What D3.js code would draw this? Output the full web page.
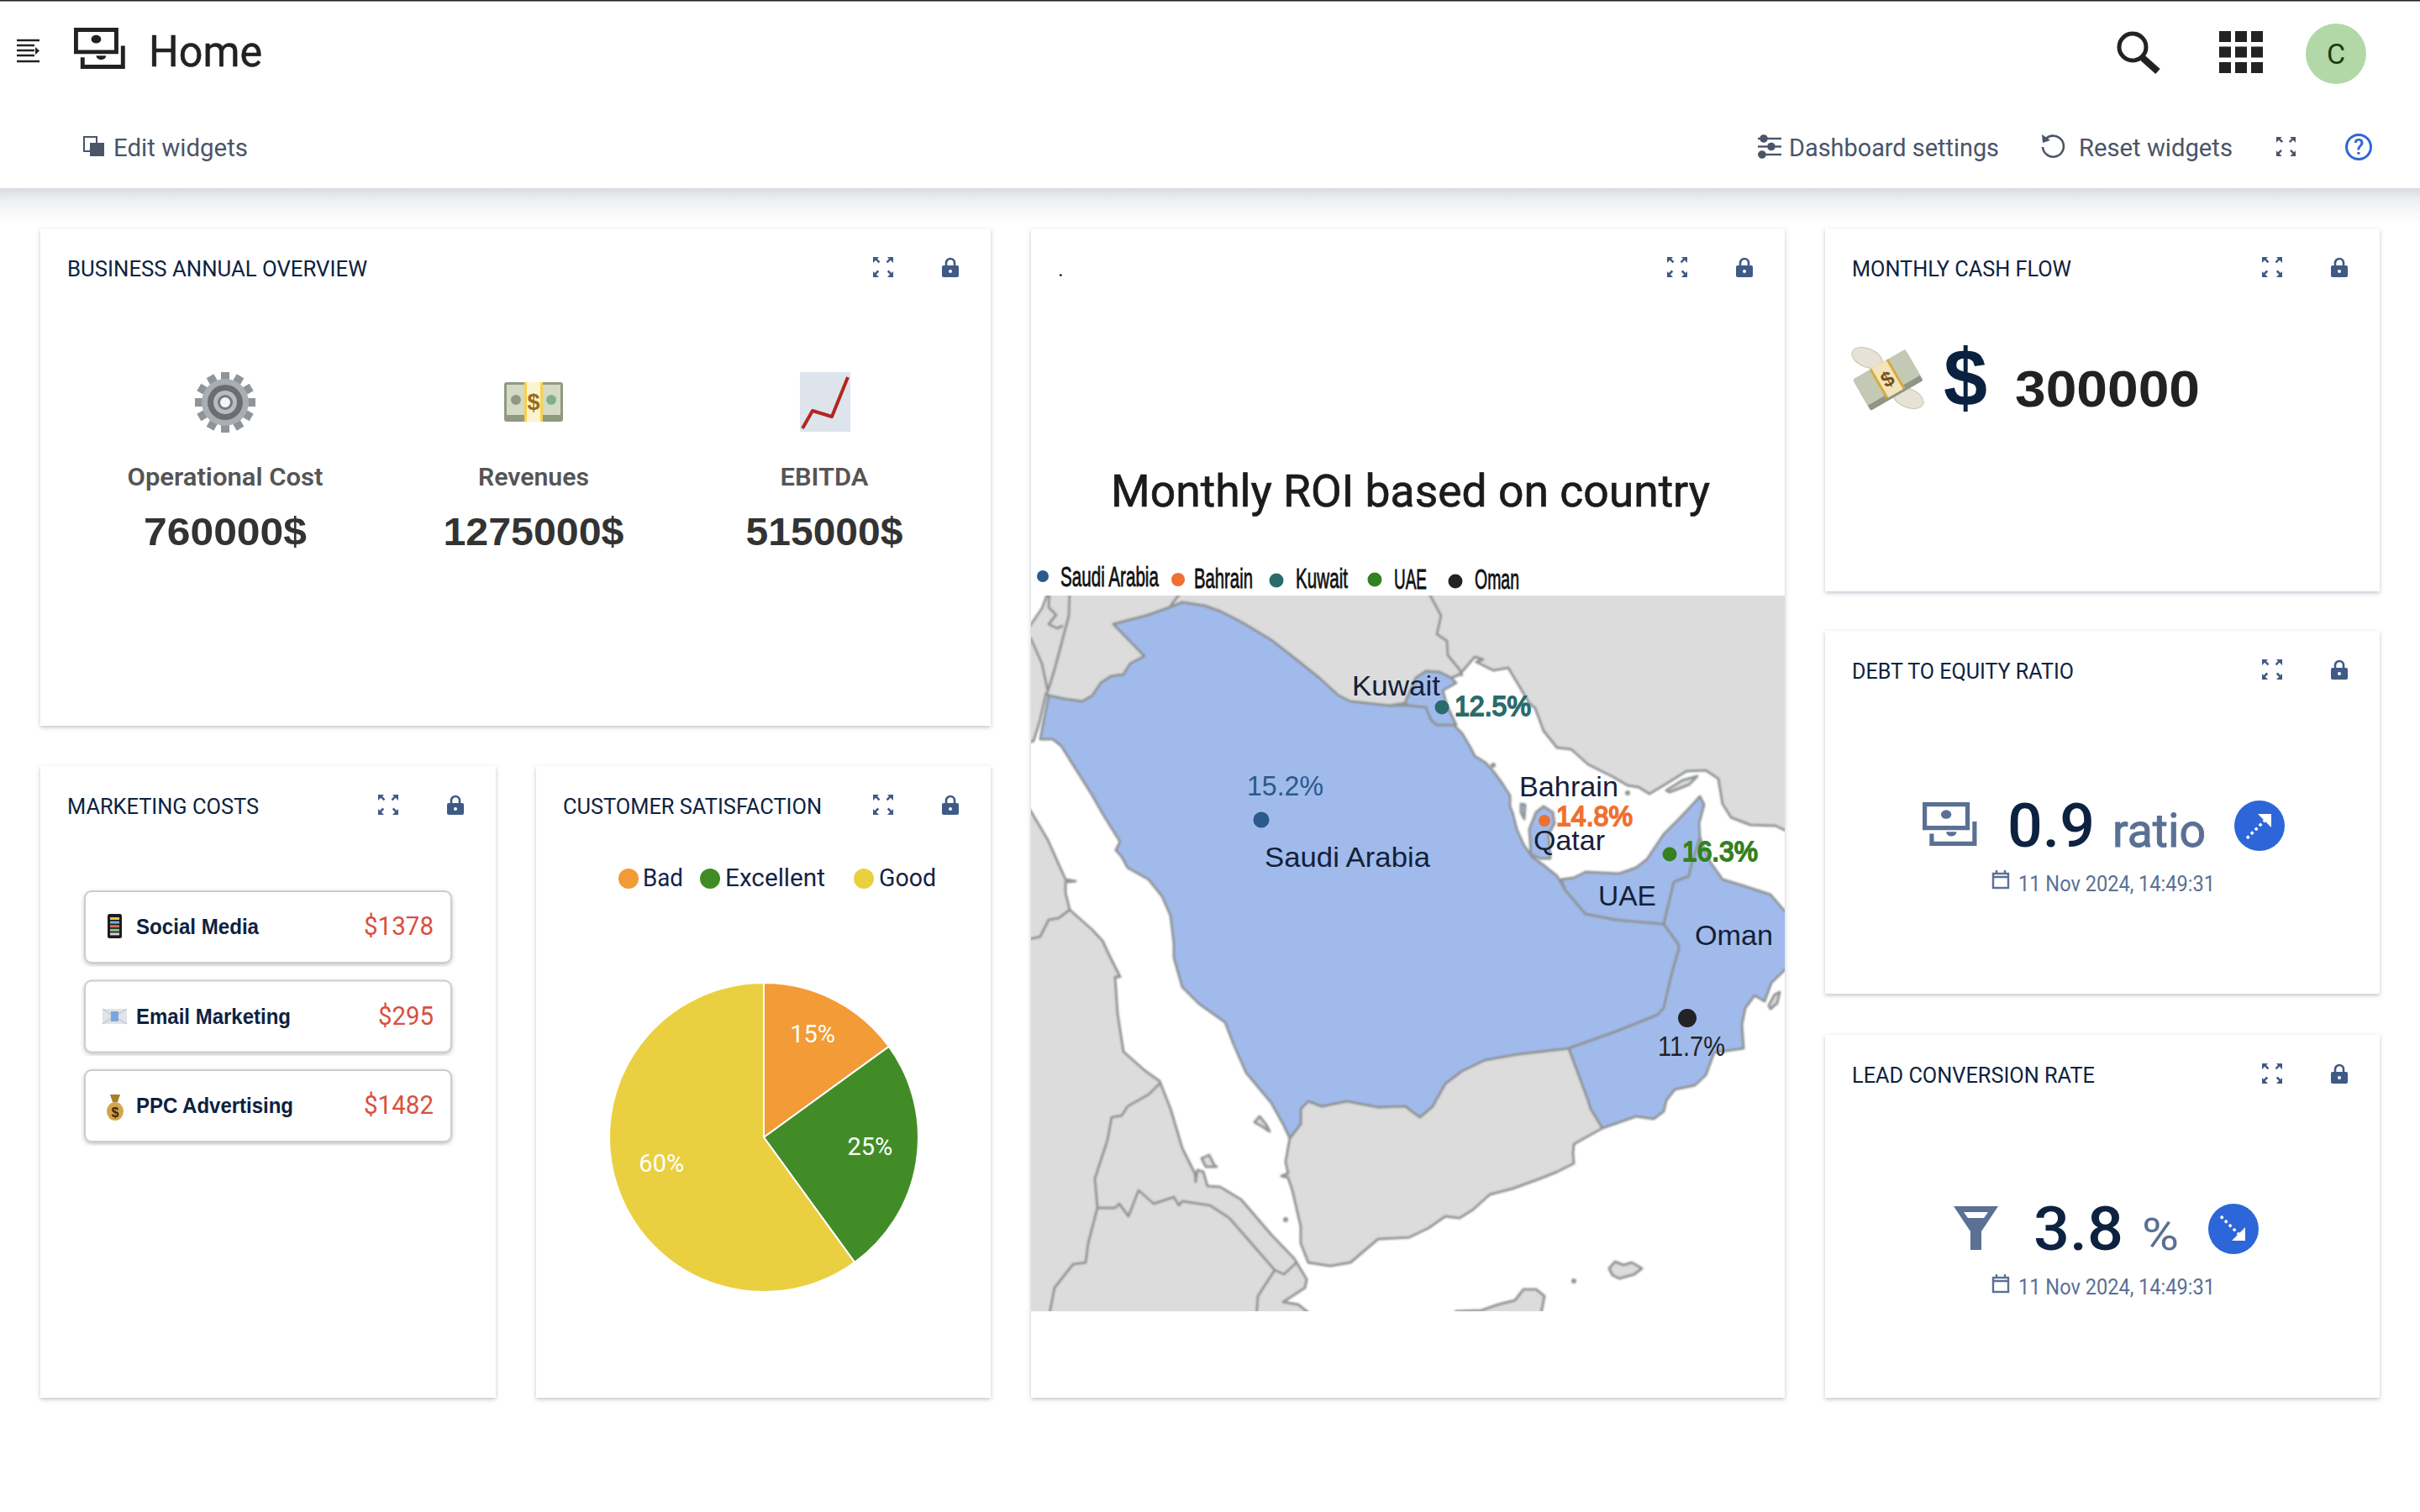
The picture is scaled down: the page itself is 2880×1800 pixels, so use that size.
<!DOCTYPE html>
<html>
<head>
<meta charset="utf-8">
<title>Home</title>
<script src="https://cdn.jsdelivr.net/npm/d3@7"></script>
<style>
  html, body { margin: 0; padding: 0; background: #fff; }
  svg { display: block; }
</style>
</head>
<body>
<svg id="chart" width="2880" height="1800" viewBox="0 0 2880 1800"></svg>
<script>
// values
const kpiNames = ["Operational Cost", "Revenues", "EBITDA"];
const kpiValues = ["760000$", "1275000$", "515000$"];
const marketingNames = ["Social Media", "Email Marketing", "PPC Advertising"];
const marketingCosts = [1378, 295, 1482];
const satisfactionNames = ["Bad", "Excellent", "Good"];
const satisfactionValues = [15, 25, 60];
const roiCountries = ["Saudi Arabia", "Bahrain", "Kuwait", "UAE", "Oman"];
const roiValues = [15.2, 14.8, 12.5, 16.3, 11.7];
const roiColors = ["#2b5a8c", "#ef7030", "#2a6b6b", "#358020", "#232326"];
// where the marker of each country sits on the map raster (0..897, 0..852)
const roiGrid = [[274, 267], [611, 268], [489, 133], [760, 308], [781, 503]];

// map outlines, traced in map raster units
const saudi = [[21,119],[40,123],[61,126],[73,119],[83,104],[95,96],[110,94],[118,81],[135,72],[98,34],[140,23],[165,14],[180,8],[206,12],[226,19],[253,33],[286,53],[313,74],[343,98],[366,119],[380,126],[426,131],[450,131],[470,133],[476,148],[483,154],[503,154],[513,164],[523,181],[528,191],[541,199],[550,209],[561,224],[570,238],[570,251],[573,258],[578,278],[586,296],[596,311],[610,321],[626,334],[636,351],[660,379],[696,386],[753,391],[771,416],[771,421],[763,448],[753,491],[746,499],[696,519],[640,539],[580,546],[540,553],[513,566],[493,581],[478,608],[463,621],[453,614],[446,608],[413,609],[376,602],[346,608],[330,602],[321,611],[321,629],[308,646],[301,631],[286,604],[256,568],[241,534],[231,508],[200,486],[180,466],[170,431],[170,414],[166,381],[156,358],[140,338],[115,324],[108,311],[101,303],[106,293],[86,261],[73,238],[36,179],[26,171],[11,171],[13,160]];
const kuwait = [[445,128],[458,98],[470,90],[486,91],[500,98],[506,104],[490,113],[495,131],[506,154],[483,154],[476,148],[470,133],[450,131]];
const qatar = [[595,308],[593,278],[601,258],[610,251],[621,258],[623,271],[616,284],[618,313],[606,313]];
const bahrainIsle = [[583,248],[588,249],[587,266],[583,258]];
const uae = [[631,338],[646,336],[660,329],[700,331],[720,324],[733,314],[753,284],[773,264],[788,248],[796,239],[801,249],[795,271],[796,288],[785,324],[783,334],[765,341],[753,391],[696,386],[660,379],[636,351]];
const oman = [[796,288],[806,314],[823,338],[843,344],[880,356],[905,385],[905,438],[881,461],[873,483],[861,476],[850,491],[846,511],[848,539],[813,544],[803,571],[790,583],[766,588],[756,601],[753,614],[741,623],[720,620],[680,634],[666,611],[663,601],[640,539],[696,519],[746,499],[753,491],[763,448],[771,421],[771,416],[753,391],[765,341],[783,334],[785,324]];
const yemen = [[680,634],[646,653],[645,664],[646,676],[626,686],[606,694],[573,706],[546,713],[526,731],[510,741],[493,739],[473,753],[450,764],[413,766],[386,789],[380,794],[356,798],[330,794],[321,771],[321,751],[311,708],[306,693],[298,691],[306,688],[303,674],[308,646],[321,629],[321,611],[330,602],[346,608],[376,602],[413,609],[446,608],[453,614],[463,621],[478,608],[493,581],[513,566],[540,553],[580,546],[640,539],[663,601],[666,611]];
const africa = [[-6,247],[20,291],[41,338],[53,340],[41,341],[41,354],[46,374],[73,398],[85,411],[93,428],[106,454],[100,454],[103,498],[110,543],[136,566],[153,578],[166,611],[180,658],[195,688],[196,698],[198,684],[205,686],[210,703],[225,704],[250,719],[286,761],[313,789],[328,814],[326,824],[300,841],[318,844],[338,860],[-6,860]];
const northLand = [[-6,-6],[905,-6],[905,283],[886,274],[856,273],[833,264],[823,248],[818,218],[803,208],[780,209],[756,224],[736,236],[723,228],[710,226],[693,216],[663,201],[643,183],[626,181],[610,161],[600,134],[593,128],[580,106],[568,86],[550,89],[530,79],[538,76],[528,73],[510,94],[500,98],[486,91],[470,90],[458,98],[445,128],[426,131],[380,126],[366,119],[343,98],[313,74],[286,53],[253,33],[226,19],[206,12],[180,8],[165,14],[140,23],[98,34],[135,72],[118,81],[110,94],[95,96],[83,104],[73,119],[61,126],[40,123],[21,119],[18,116],[10,151],[3,173],[-6,176]];
const medSea = [[-6,-6],[21,-6],[13,15],[-6,43]];
const socotra = [[688,801],[695,793],[705,797],[715,794],[727,801],[718,808],[700,813],[692,809]];
const bottomIsle = [[500,860],[506,852],[536,851],[556,844],[576,839],[586,826],[601,826],[611,834],[606,860]];
const masirah = [[878,488],[885,475],[891,472],[888,485],[880,492]];
const qeshm = [[756,232],[775,220],[793,215],[783,225],[760,234]];
const redIsleA = [[266,627],[272,620],[280,630],[284,638],[275,632]];
const redIsleB = [[203,670],[212,666],[218,678],[221,680],[208,680]];
const tinyIsles = [[303,743,3],[550,202,3],[710,235,3],[646,816,3]];
const borderLines = [
  [[-6,41],[1,54],[13,81],[20,114],[28,88],[36,58],[45,24],[46,-6]],
  [[22,-6],[21,14],[30,23],[21,34],[31,39],[38,36]],
  [[180,-6],[166,12]],
  [[472,-6],[488,24],[483,46],[495,54],[496,71],[510,88],[513,96]],
  [[-6,410],[11,406],[21,386],[33,384],[46,374]],
  [[153,581],[140,594],[115,608],[108,619],[96,621],[91,648],[76,694],[79,729],[68,771],[65,794],[50,796],[28,824],[21,860]],
  [[79,729],[100,729],[105,724],[116,739],[128,708],[146,724],[170,716],[176,726],[180,721],[213,726],[236,741],[290,803],[301,808],[316,794]],
  [[290,803],[270,834],[268,860]]
];
const mapNames = ["Kuwait", "Bahrain", "Qatar", "Saudi Arabia", "UAE", "Oman"];

const PLEX = "Roboto, 'Noto Sans', sans-serif";
const HELV = "'Liberation Sans', Arial, sans-serif";
const NAVY = "#0d2240";
const SLATE = "#5a7094";
const LOCK = "#3f5a85";
const BLUE = "#2d66d8";

const svg = d3.select("#chart");
const defs = svg.append("defs");
const shadow = defs.append("filter").attr("id", "cardShadow").attr("x", "-5%").attr("y", "-5%").attr("width", "110%").attr("height", "110%");
shadow.append("feDropShadow").attr("dx", 0).attr("dy", 2).attr("stdDeviation", 2.5).attr("flood-color", "#8a94a6").attr("flood-opacity", 0.55);
defs.append("filter").attr("id", "soft").append("feGaussianBlur").attr("stdDeviation", 0.8);
const headShadow = defs.append("linearGradient").attr("id", "headShadow").attr("x1", 0).attr("x2", 0).attr("y1", 0).attr("y2", 1);
headShadow.append("stop").attr("offset", "0%").attr("stop-color", "#d8dbe1");
headShadow.append("stop").attr("offset", "35%").attr("stop-color", "#f0f1f3");
headShadow.append("stop").attr("offset", "100%").attr("stop-color", "#ffffff");

function txt(g, s, x, y, o) {
  const t = g.append("text").text(s).attr("x", x).attr("y", y)
    .attr("font-family", o.family || PLEX)
    .attr("font-size", o.size)
    .attr("font-weight", o.weight || 400)
    .attr("fill", o.fill || "#222")
    .attr("text-anchor", o.anchor || "start");
  if (o.w) t.attr("textLength", o.w).attr("lengthAdjust", "spacingAndGlyphs");
  if (o.stroke) t.attr("stroke", o.fill).attr("stroke-width", o.stroke);
  return t;
}
// squeezes a text sideways to w, the map legend is a condensed raster in the picture
function squeezed(g, s, x, y, w, o) {
  const t = txt(g, s, 0, 0, o);
  const k = w / t.node().getComputedTextLength();
  t.attr("transform", `translate(${x},${y}) scale(${k},1)`);
  return t;
}

// small icons
function expandIcon(g, x, y, w, h, fill) {
  const i = g.append("g").attr("transform", `translate(${x},${y}) scale(${w / 24},${h / 24})`).attr("fill", fill);
  i.append("path").attr("d", "M0 0h7L5 2l3.4 3.4-1.8 1.8L3.2 3.8 0 7z");
  i.append("path").attr("d", "M24 0v7l-3.2-3.2-3.4 3.4-1.8-1.8L19 2l-2-2z");
  i.append("path").attr("d", "M0 24v-7l2 2 3.4-3.4 1.8 1.8L3.8 20.8 7 24z");
  i.append("path").attr("d", "M24 24h-7l3.2-3.2-3.4-3.4 1.8-1.8L22 19l2-2z");
}
function lockIcon(g, x, y) {
  const i = g.append("g").attr("transform", `translate(${x},${y})`);
  i.append("path").attr("d", "M5 11V7a5 5 0 0 1 10 0v4").attr("fill", "none").attr("stroke", LOCK).attr("stroke-width", 2.6);
  i.append("rect").attr("x", 0).attr("y", 10).attr("width", 20).attr("height", 14).attr("rx", 2).attr("fill", LOCK);
  i.append("circle").attr("cx", 10).attr("cy", 17).attr("r", 2).attr("fill", "#fff");
}
function moneyIcon(g, x, y, k, fill) {
  // two offset bills, drawn in a 62x50 box
  const i = g.append("g").attr("transform", `translate(${x},${y}) scale(${k})`);
  i.append("path").attr("fill-rule", "evenodd").attr("fill", fill)
    .attr("d", "M0 0h54v32H0zM5 5v22h44V5z");
  i.append("ellipse").attr("cx", 27).attr("cy", 14).attr("rx", 6).attr("ry", 5).attr("fill", fill);
  i.append("path").attr("fill", fill).attr("d", "M8 36h5v9h44V22h5v28H8z");
  i.append("path").attr("fill", fill).attr("d", "M27 34h12a6 5 0 0 1-12 0z");
}
function calendarIcon(g, x, y) {
  const i = g.append("g").attr("transform", `translate(${x},${y})`).attr("fill", "none").attr("stroke", SLATE).attr("stroke-width", 2.4);
  i.append("rect").attr("x", 1).attr("y", 4).attr("width", 18).attr("height", 17);
  i.append("path").attr("d", "M1 8h18M5 0v4M15 0v4");
}
function trendBadge(g, cx, cy, up) {
  const i = g.append("g").attr("transform", `translate(${cx},${cy}) rotate(${up ? 0 : 90})`);
  i.append("circle").attr("r", 30).attr("fill", BLUE);
  i.append("path").attr("d", "M-15 15L8 -8").attr("stroke", "#fff").attr("stroke-width", 3.4).attr("stroke-dasharray", "3.5 3.5");
  i.append("path").attr("d", "M-2 -14H14V2z").attr("fill", "#fff");
}

// header
svg.append("rect").attr("x", 0).attr("y", 224).attr("width", 2880).attr("height", 44).attr("fill", "url(#headShadow)");
svg.append("rect").attr("x", 0).attr("y", 0).attr("width", 2880).attr("height", 224).attr("fill", "#fff");
svg.append("rect").attr("x", 0).attr("y", 0).attr("width", 2880).attr("height", 1.5).attr("fill", "#222");

const head = svg.append("g");
head.append("path").attr("stroke", "#222").attr("stroke-width", 2.6).attr("fill", "none")
  .attr("d", "M20 48h27M20 54h21M20 60h21M20 66h21M20 73h27");
head.append("path").attr("fill", "#222").attr("d", "M42 56l5 4.5-5 4.5z");
moneyIcon(head, 88, 33, 0.98, "#222");
txt(head, "Home", 177, 79, { size: 52, fill: "#222", w: 135, stroke: 0.5 });
head.append("rect").attr("x", 100).attr("y", 163).attr("width", 15).attr("height", 17).attr("fill", "none").attr("stroke", "#4a5568").attr("stroke-width", 2);
head.append("rect").attr("x", 107).attr("y", 170).attr("width", 17).attr("height", 16).attr("fill", "#4a5568");
txt(head, "Edit widgets", 135, 186, { size: 30, fill: "#4a5568", w: 160 });

const search = head.append("g").attr("fill", "none").attr("stroke", "#222");
search.append("circle").attr("cx", 2538).attr("cy", 56).attr("r", 16).attr("stroke-width", 5);
search.append("path").attr("d", "M2550 69L2568 85").attr("stroke-width", 8);
d3.cross(d3.range(3), d3.range(3)).forEach(([c, r]) => {
  head.append("rect").attr("x", 2641 + c * 19).attr("y", 37 + r * 18.5).attr("width", 14).attr("height", 13).attr("fill", "#222");
});
head.append("circle").attr("cx", 2780).attr("cy", 64).attr("r", 36).attr("fill", "#b2d8a8");
txt(head, "C", 2780, 76, { size: 34, fill: "#1d3a10", anchor: "middle" });

const sliders = head.append("g").attr("stroke", "#4a5568").attr("stroke-width", 2.4);
[[165, 2099], [174.5, 2108], [184, 2097]].forEach(([y, kx]) => {
  sliders.append("path").attr("d", `M2092 ${y}H2120`);
  sliders.append("circle").attr("cx", kx).attr("cy", y).attr("r", 3.6).attr("fill", "#4a5568");
});
txt(head, "Dashboard settings", 2129, 186, { size: 30, fill: "#4a5568", w: 250 });
head.append("path").attr("fill", "none").attr("stroke", "#4a5568").attr("stroke-width", 2.6)
  .attr("d", "M2434 166a12.5 12.5 0 1 1-3 9");
head.append("path").attr("fill", "#4a5568").attr("d", "M2430 160l1 10 9-3z");
txt(head, "Reset widgets", 2474, 186, { size: 30, fill: "#4a5568", w: 183 });
expandIcon(head, 2709, 163, 23, 23, "#4a5568");
head.append("circle").attr("cx", 2807).attr("cy", 175).attr("r", 14.5).attr("fill", "none").attr("stroke", BLUE).attr("stroke-width", 3);
txt(head, "?", 2807, 184, { size: 25, fill: BLUE, anchor: "middle", weight: 500 });

// cards
const cards = [
  { t: "BUSINESS ANNUAL OVERVIEW", x: 48, y: 272, w: 1131, h: 592, tw: 357 },
  { t: "MARKETING COSTS", x: 48, y: 912, w: 542, h: 752, tw: 228 },
  { t: "CUSTOMER SATISFACTION", x: 638, y: 912, w: 541, h: 752, tw: 308 },
  { t: ".", x: 1227, y: 272, w: 897, h: 1392 },
  { t: "MONTHLY CASH FLOW", x: 2172, y: 272, w: 660, h: 432, tw: 261 },
  { t: "DEBT TO EQUITY RATIO", x: 2172, y: 751, w: 660, h: 432, tw: 264 },
  { t: "LEAD CONVERSION RATE", x: 2172, y: 1232, w: 660, h: 432, tw: 289 }
];
cards.forEach(c => {
  const g = svg.append("g");
  g.append("rect").attr("x", c.x).attr("y", c.y).attr("width", c.w).attr("height", c.h).attr("fill", "#fff").attr("filter", "url(#cardShadow)");
  txt(g, c.t, c.x + 32, c.y + 57, { size: 25.6, fill: NAVY, w: c.tw });
  expandIcon(g, c.x + c.w - 140, c.y + 34, 24, 24, LOCK);
  lockIcon(g, c.x + c.w - 58, c.y + 34);
});

// business overview
const overview = svg.append("g");
const kpiCentre = [268, 635, 981];
const kpiNameW = [233, 132, 105];
const kpiValW = [194, 215, 187];
kpiNames.forEach((n, i) => {
  txt(overview, n, kpiCentre[i], 578, { size: 30, weight: 600, fill: "#555", anchor: "middle", w: kpiNameW[i] });
  txt(overview, kpiValues[i], kpiCentre[i], 649, { size: 47, weight: 700, fill: "#333", anchor: "middle", family: HELV, w: kpiValW[i] });
});
// gear
const gear = overview.append("g").attr("transform", "translate(268,479)");
d3.range(12).forEach(k => {
  gear.append("rect").attr("x", -5).attr("y", -36).attr("width", 10).attr("height", 14).attr("fill", "#8f9499")
    .attr("transform", `rotate(${k * 30})`);
});
gear.append("circle").attr("r", 28).attr("fill", "#a9aeb3");
gear.append("circle").attr("r", 21).attr("fill", "#6a6e73");
gear.append("circle").attr("r", 14).attr("fill", "#b9bdc1");
gear.append("circle").attr("r", 9).attr("fill", "#77797d");
gear.append("circle").attr("r", 6).attr("fill", "#f4f5f6");
// bills
const bills = overview.append("g").attr("transform", "translate(600,455)");
bills.append("rect").attr("width", 70).attr("height", 47).attr("rx", 3).attr("fill", "#8f9a80");
bills.append("rect").attr("x", 3).attr("y", 3).attr("width", 64).attr("height", 36).attr("fill", "#d5dac6");
bills.append("circle").attr("cx", 14).attr("cy", 21).attr("r", 6).attr("fill", "#8f9a80");
bills.append("circle").attr("cx", 56).attr("cy", 21).attr("r", 6).attr("fill", "#7fb08e");
bills.append("rect").attr("x", 24).attr("y", 0).attr("width", 22).attr("height", 47).attr("fill", "#f6d24e");
bills.append("rect").attr("x", 27).attr("y", 0).attr("width", 16).attr("height", 47).attr("fill", "#fbf4cf");
txt(bills, "$", 35, 33, { size: 27, weight: 700, fill: "#9a6c14", anchor: "middle", family: HELV });
// rising chart
const sheet = overview.append("g").attr("transform", "translate(952,443)");
sheet.append("rect").attr("width", 60).attr("height", 71).attr("fill", "#dde4ec");
sheet.append("path").attr("fill", "none").attr("stroke", "#b3261e").attr("stroke-width", 4).attr("stroke-linejoin", "round")
  .attr("d", "M3 67L15 46L38 53L57 6");

// marketing costs
const mktg = svg.append("g");
const rowY = d3.scalePoint().domain(marketingNames).range([1061, 1274]);
const rowH = 85;
const nameW = [146, 184, 187];
const costW = [83, 66, 83];
marketingNames.forEach((n, i) => {
  const y = rowY(n);
  mktg.append("rect").attr("x", 101).attr("y", y).attr("width", 436).attr("height", rowH).attr("rx", 8)
    .attr("fill", "#fff").attr("stroke", "#cdcdcd").attr("stroke-width", 2).attr("filter", "url(#cardShadow)");
  txt(mktg, n, 162, y + 51, { size: 25.5, weight: 700, fill: NAVY, family: HELV, w: nameW[i] });
  txt(mktg, "$" + marketingCosts[i], 516, y + 52, { size: 31, fill: "#d9503f", anchor: "end", w: costW[i] });
});
const phone = mktg.append("g").attr("transform", "translate(128,1088)");
phone.append("rect").attr("width", 17).attr("height", 29).attr("rx", 2.5).attr("fill", "#1b1b1d");
d3.range(5).forEach(r => phone.append("rect").attr("x", 3).attr("y", 4 + r * 4.6).attr("width", 11).attr("height", 3).attr("fill", ["#e9c64c", "#6eb5e6", "#dd6a5c", "#7fc97b", "#cfd3d8"][r]));
const envelope = mktg.append("g").attr("transform", "translate(122,1201)");
envelope.append("rect").attr("width", 29).attr("height", 18).attr("fill", "#e0e3e8");
envelope.append("path").attr("d", "M0 0L14 9L29 0M0 18L14 9L29 18").attr("fill", "none").attr("stroke", "#c1c6ce").attr("stroke-width", 1.2);
envelope.append("rect").attr("x", 10).attr("y", 3).attr("width", 9).attr("height", 12).attr("fill", "#7aa6e0");
const bag = mktg.append("g").attr("transform", "translate(137,1318)");
bag.append("ellipse").attr("cy", 5).attr("rx", 10).attr("ry", 11).attr("fill", "#d2a64d");
bag.append("path").attr("d", "M-6 -15L6 -15L3 -6L-3 -6z").attr("fill", "#a97f2e");
txt(bag, "$", 0, 12, { size: 16, weight: 700, fill: "#3d2c0a", anchor: "middle", family: HELV });

// customer satisfaction pie
const satColor = d3.scaleOrdinal().domain(satisfactionNames).range(["#f39b36", "#428c27", "#ead040"]);
const legendX = [748, 845, 1028];
const legendW = [48, 119, 68];
const legend = svg.append("g");
satisfactionNames.forEach((n, i) => {
  legend.append("circle").attr("cx", legendX[i]).attr("cy", 1046).attr("r", 12).attr("fill", satColor(n));
  txt(legend, n, legendX[i] + (i === 0 ? 17 : 18), 1055, { size: 29, fill: "#152347", w: legendW[i] });
});
const pie = d3.pie().sort(null).value((d, i) => satisfactionValues[i])(satisfactionNames);
const arc = d3.arc().innerRadius(0).outerRadius(184);
const labelArc = d3.arc().innerRadius(128).outerRadius(128);
const pieG = svg.append("g").attr("transform", "translate(909,1354)");
pieG.selectAll("path").data(pie).join("path").attr("d", arc)
  .attr("fill", d => satColor(d.data)).attr("stroke", "#fff").attr("stroke-width", 2);
pieG.selectAll("text").data(pie).join("text")
  .attr("transform", d => { const [x, y] = labelArc.centroid(d); return `translate(${x},${y - 9})`; })
  .attr("dy", "0.35em").attr("text-anchor", "middle")
  .attr("font-family", PLEX).attr("font-size", 29).attr("fill", "#fff")
  .text(d => d.value + "%");

// ROI map
const mapX = d3.scaleLinear().domain([0, 897]).range([1227, 2124]);
const mapY = d3.scaleLinear().domain([0, 852]).range([709, 1561]);
const outline = d3.line().x(d => mapX(d[0])).y(d => mapY(d[1])).curve(d3.curveLinearClosed);
const open = d3.line().x(d => mapX(d[0])).y(d => mapY(d[1]));
const map = svg.append("g");
defs.append("clipPath").attr("id", "mapClip").append("rect").attr("x", 1227).attr("y", 709).attr("width", 897).attr("height", 852);
const mapClip = map.append("g").attr("clip-path", "url(#mapClip)");
const mapG = mapClip.append("g").attr("filter", "url(#soft)").attr("stroke", "#909395").attr("stroke-width", 3).attr("stroke-linejoin", "round");
const GREY = "#dcdcdc";
const SEA = "#a0bbeb";
[northLand, africa, yemen, socotra, bottomIsle, masirah, redIsleA, redIsleB, qeshm].forEach(p => mapG.append("path").attr("d", outline(p)).attr("fill", GREY));
mapG.append("path").attr("d", outline(medSea)).attr("fill", "#fff");
[saudi, kuwait, qatar, uae, oman, bahrainIsle].forEach(p => mapG.append("path").attr("d", outline(p)).attr("fill", SEA));
borderLines.forEach(l => mapG.append("path").attr("d", open(l)).attr("fill", "none"));
tinyIsles.forEach(d => mapG.append("circle").attr("cx", mapX(d[0])).attr("cy", mapY(d[1])).attr("r", d[2]).attr("fill", "#909395").attr("stroke", "none"));

txt(map, "Monthly ROI based on country", 1322, 603, { size: 54, weight: 400, fill: "#1b1b1b", w: 713, stroke: 0.7 });

// map legend
const legendDotX = [1241, 1402, 1519, 1636, 1732];
const legendDotY = [686, 690, 691, 690, 692];
const legendDotR = [7, 8, 8.5, 8.5, 8.5];
const legendTextX = [1262, 1421, 1542, 1659, 1755];
const legendTextW = [117, 70, 62, 39, 53];
const legendTextY = [698, 700, 700, 701, 701];
roiCountries.forEach((n, i) => {
  map.append("circle").attr("cx", legendDotX[i]).attr("cy", legendDotY[i]).attr("r", legendDotR[i]).attr("fill", roiColors[i]);
  squeezed(map, n, legendTextX[i], legendTextY[i], legendTextW[i], { size: 33, fill: "#111", family: HELV, stroke: 0.8 });
});

// markers and their labels
const roiStyle = [
  { dx: -17, dy: -29, w: 91, r: 9.5, bold: 0 },
  { dx: 14, dy: 6, w: 91, r: 7, bold: 1.8 },
  { dx: 15, dy: 10, w: 91, r: 8.5, bold: 1.8 },
  { dx: 15, dy: 8, w: 90, r: 8.5, bold: 1.8 },
  { dx: -35, dy: 45, w: 80, r: 11, bold: 0 }
];
roiCountries.forEach((n, i) => {
  const x = mapX(roiGrid[i][0]), y = mapY(roiGrid[i][1]), s = roiStyle[i];
  map.append("circle").attr("cx", x).attr("cy", y).attr("r", s.r).attr("fill", roiColors[i]);
  txt(map, roiValues[i] + "%", x + s.dx, y + s.dy, { size: 33, fill: roiColors[i], family: HELV, w: s.w, stroke: s.bold });
});
const nameSpots = [[1609, 828, 105], [1808, 948, 118], [1825, 1012, 85], [1505, 1032, 197], [1902, 1078, 69], [2017, 1125, 93]];
mapNames.forEach((n, i) => {
  txt(map, n, nameSpots[i][0], nameSpots[i][1], { size: 33, fill: "#15203a", family: HELV, w: nameSpots[i][2] });
});

// monthly cash flow
const cash = svg.append("g");
[[2222, 426, 22], [2271, 474, 22]].forEach(([x, y, a]) => {
  cash.append("ellipse").attr("transform", `translate(${x},${y}) rotate(${a})`).attr("rx", 19).attr("ry", 11).attr("fill", "#e6e3d6").attr("stroke", "#c7c4b4");
});
const flying = cash.append("g").attr("transform", "translate(2246,451) rotate(-30)");
flying.append("rect").attr("x", -36).attr("y", -17).attr("width", 72).attr("height", 40).attr("rx", 2).attr("fill", "#8f9686");
flying.append("rect").attr("x", -36).attr("y", -20).attr("width", 72).attr("height", 36).attr("rx", 2).attr("fill", "#c3c9b4");
flying.append("rect").attr("x", -13).attr("y", -20).attr("width", 26).attr("height", 40).attr("fill", "#d9a93f");
flying.append("rect").attr("x", -10).attr("y", -20).attr("width", 20).attr("height", 40).attr("fill", "#f2e5bd");
txt(flying, "$", 0, 9, { size: 25, weight: 700, fill: "#7a4f1a", anchor: "middle", family: HELV });
txt(cash, "$", 2339, 483, { size: 96, weight: 700, fill: "#0a2240", anchor: "middle", family: HELV, w: 52 });
txt(cash, "300000", 2398, 484, { size: 61, weight: 700, fill: "#222", family: HELV, w: 220 });

// debt to equity
const debt = svg.append("g");
moneyIcon(debt, 2288, 955, 1.04, SLATE);
txt(debt, "0.9", 2389, 1008, { size: 72, weight: 500, fill: NAVY, w: 104 });
txt(debt, "ratio", 2514, 1008, { size: 56, fill: SLATE, w: 111, stroke: 1 });
trendBadge(debt, 2689, 983, true);
calendarIcon(debt, 2371, 1036);
txt(debt, "11 Nov 2024, 14:49:31", 2402, 1061, { size: 25, fill: SLATE, w: 234 });

// lead conversion
const lead = svg.append("g");
lead.append("path").attr("fill", SLATE).attr("fill-rule", "evenodd")
  .attr("d", "M2325 1436H2378L2358 1466V1488H2345V1466zM2337 1443L2342 1450H2361L2366 1443z");
txt(lead, "3.8", 2420, 1488, { size: 72, weight: 500, fill: NAVY, w: 107 });
txt(lead, "%", 2549, 1488, { size: 54, fill: SLATE, w: 44 });
trendBadge(lead, 2658, 1463, false);
calendarIcon(lead, 2371, 1517);
txt(lead, "11 Nov 2024, 14:49:31", 2402, 1541, { size: 25, fill: SLATE, w: 234 });
</script>
</body>
</html>
